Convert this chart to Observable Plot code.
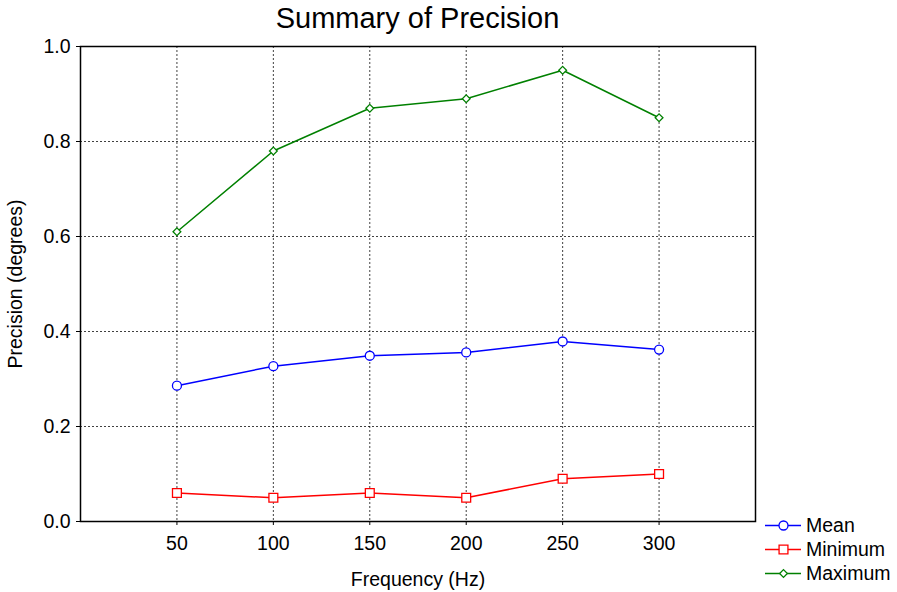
<!DOCTYPE html>
<html><head><meta charset="utf-8">
<script src="https://cdn.jsdelivr.net/npm/d3@7"></script>
<script src="https://cdn.jsdelivr.net/npm/@observablehq/plot@0.6"></script>
<style>
body{margin:0;background:#fff;font-family:"Liberation Sans",Arial,sans-serif}
#wrap{position:relative;width:897px;height:592px}
#title{position:absolute;left:80px;width:675px;top:1px;text-align:center;font-size:29px;line-height:34px;color:#000}
#legend{position:absolute;left:765px;top:513px;font-size:19.5px;color:#000}
.item{display:flex;align-items:center;height:24px}
.item svg{margin-right:5px}
</style></head>
<body>
<div id="wrap"><div id="title">Summary of Precision</div><div id="chart"></div><div id="legend"></div></div>
<script>
const frequencies = [50, 100, 150, 200, 250, 300];
const meanValues = [0.286, 0.327, 0.349, 0.356, 0.379, 0.362];
const minimumValues = [0.06, 0.05, 0.06, 0.05, 0.09, 0.10];
const maximumValues = [0.61, 0.78, 0.87, 0.89, 0.95, 0.85];
const seriesNames = ["Mean", "Minimum", "Maximum"];
const seriesColors = ["#0000ff", "#ff0000", "#008000"];
const seriesSymbols = ["circle", "square", "diamond2"];
const yTicks = [0, 0.2, 0.4, 0.6, 0.8, 1.0];

const allValues = [meanValues, minimumValues, maximumValues];
const rows = [];
allValues.forEach((vals, s) => vals.forEach((v, i) => rows.push({series: seriesNames[s], x: frequencies[i], y: v})));

const sizes = {Mean: 4.5, Minimum: 5, Maximum: 3.5};
const marks = [
  Plot.gridX(frequencies, {stroke: "#000", strokeOpacity: 0.75, strokeDasharray: "2,2"}),
  Plot.gridY([0.2, 0.4, 0.6, 0.8], {stroke: "#000", strokeOpacity: 0.75, strokeDasharray: "2,2"}),
  Plot.axisX({ticks: frequencies, tickSize: 4, tickPadding: 11, label: "Frequency (Hz)", labelAnchor: "center", labelOffset: 64, labelArrow: "none", fontSize: 19.5}),
  Plot.axisY({ticks: yTicks, tickSize: 4, tickPadding: 6, tickFormat: d3.format(".1f"), label: "Precision (degrees)", labelAnchor: "center", labelOffset: 72, labelArrow: "none", fontSize: 19.5}),
  Plot.frame({stroke: "#000", strokeWidth: 1.5})
];
seriesNames.forEach((name, s) => {
  const d = rows.filter(r => r.series === name);
  marks.push(Plot.line(d, {x: "x", y: "y", stroke: seriesColors[s], strokeWidth: 1.5}));
  marks.push(Plot.dot(d, {x: "x", y: "y", stroke: seriesColors[s], fill: "white", symbol: seriesSymbols[s], r: sizes[name], strokeWidth: 1.3}));
});

const chart = Plot.plot({
  width: 897, height: 592,
  marginTop: 46, marginBottom: 71, marginLeft: 80, marginRight: 142,
  style: {fontFamily: "Liberation Sans, Arial, sans-serif", fontSize: "19.5px", color: "#000", background: "white"},
  x: {domain: [0, 350]},
  y: {domain: [0, 1]},
  marks
});
document.getElementById("chart").appendChild(chart);

const legend = document.getElementById("legend");
seriesNames.forEach((name, s) => {
  const div = document.createElement("div");
  div.className = "item";
  const sym = Plot.dot([0], {x: () => 0, y: () => 0, stroke: seriesColors[s], fill: "white", symbol: seriesSymbols[s], r: sizes[name], strokeWidth: 1.3});
  const svg = Plot.plot({width: 36, height: 20, margin: 0, axis: null, x: {domain: [-1, 1]}, y: {domain: [-1, 1]},
    marks: [Plot.ruleY([0], {x1: -1, x2: 1, stroke: seriesColors[s], strokeWidth: 1.5}), sym]});
  div.appendChild(svg);
  const t = document.createElement("span");
  t.textContent = name;
  div.appendChild(t);
  legend.appendChild(div);
});
</script>
</body></html>
